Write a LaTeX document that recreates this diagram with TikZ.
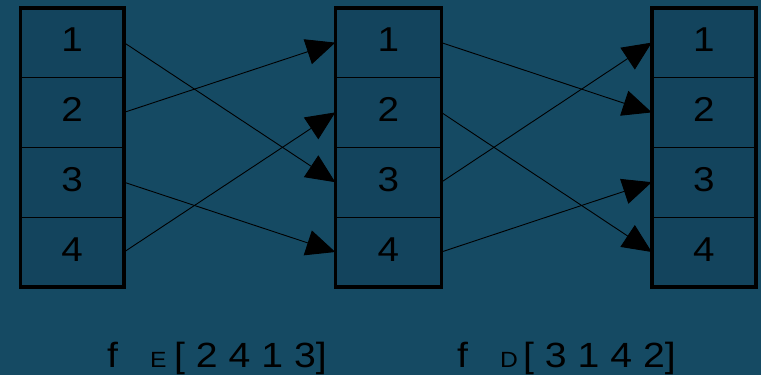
\documentclass[tikz,border=0pt]{standalone}
\usepackage{fontspec}
\setmainfont[FakeStretch=1.12]{Liberation Sans}
\usetikzlibrary{arrows.meta}
\definecolor{bg}{HTML}{154A63}
\definecolor{cellbg}{HTML}{13445D}
\begin{document}
\begin{tikzpicture}[x=1pt,y=-1pt,
  cell/.style={draw=black, line width=1pt, fill=cellbg, minimum height=69.8pt,
    inner sep=0pt, outer sep=0pt, font=\fontsize{34.5}{34.5}\selectfont,
    text height=24pt, text depth=6pt},
  frame/.style={draw=black, line width=3.6pt},
  link/.style={draw=black, line width=0.9pt, -{Triangle[length=29pt,width=26pt]}},
  big/.style={font=\fontsize{35}{35}\selectfont, anchor=base west, inner sep=0pt},
  small/.style={font=\fontsize{22}{22}\selectfont, anchor=base west, inner sep=0pt}]
\fill[bg] (0,0) rectangle (761,375);
\useasboundingbox (0,0) rectangle (761,375);
\foreach \col/\cx/\w in {1/72.2/103.7, 2/388.3/106, 3/703.9/104.3} {
  \foreach \row/\cy in {1/42.6, 2/112.4, 3/182.2, 4/252.0} {
    \node[cell, minimum width=\w pt] (c\col\row) at (\cx,\cy) {\row};
  }
}
\draw[link] (c11.east) -- (c23.west);
\draw[link] (c12.east) -- (c21.west);
\draw[link] (c13.east) -- (c24.west);
\draw[link] (c14.east) -- (c22.west);
\draw[link] (c21.east) -- (c32.west);
\draw[link] (c22.east) -- (c34.west);
\draw[link] (c23.east) -- (c31.west);
\draw[link] (c24.east) -- (c33.west);
\foreach \col in {1,2,3} {
  \draw[frame] (c\col1.north west) rectangle (c\col4.south east);
}
\node[big] (fE) at (107,367) {f};
\node[small] (sE) at (150,367) {E};
\node[big] (pE) at (174,367) {[ 2 4 1 3]};
\node[big] (fD) at (457,367) {f};
\node[small] (sD) at (500,367) {D};
\node[big] (pD) at (523,367) {[ 3 1 4 2]};
\end{tikzpicture}
\end{document}
